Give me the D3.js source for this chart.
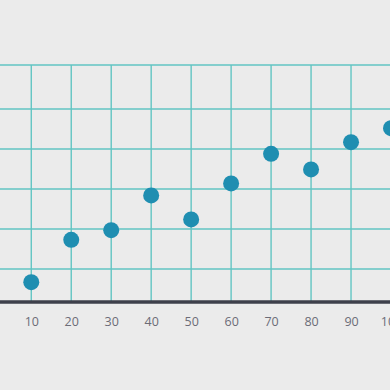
<!DOCTYPE html>
<html>
<head>
<meta charset="utf-8">
<script src="https://cdn.jsdelivr.net/npm/d3@7"></script>
<style>
  html, body { margin: 0; padding: 0; background: #ebebeb; }
  svg { display: block; }
  .tick-label { font-family: "Open Sans", sans-serif; font-size: 12.5px; fill: #6c6c77; }
</style>
</head>
<body>
<div id="chart"></div>
<script>
// chart values
const xValues = [10, 20, 30, 40, 50, 60, 70, 80, 90, 100];
const yValues = [6.7, 17.3, 19.7, 28.4, 22.4, 31.4, 38.8, 34.9, 41.7, 45.2];
const xTicks = [10, 20, 30, 40, 50, 60, 70, 80, 90, 100];
const yTicks = [10, 20, 30, 40, 50];

const width = 390, height = 390;
const colors = {
    grid: '#62c5c3',
    dot: '#1f8eb1',
    axis: '#3e404b'
};

let svg = d3.select("#chart").append("svg")
    .attr("width", width)
    .attr("height", height);

// scales
let x = d3.scaleLinear()
    .domain([0, 100])
    .range([-8.7, 391]);

let y = d3.scaleLinear()
    .domain([1.75, 61])
    .range([302, 65]);

// horizontal grid (plus top border at domain max)
svg.selectAll(".hgrid")
    .data(yTicks.concat([y.domain()[1]]))
    .enter().append("line")
    .attr("class", "hgrid")
    .attr("x1", 0).attr("x2", width)
    .attr("y1", d => y(d)).attr("y2", d => y(d))
    .attr("stroke", colors.grid)
    .attr("stroke-width", 1.4);

// vertical grid
svg.selectAll(".vgrid")
    .data(xTicks)
    .enter().append("line")
    .attr("class", "vgrid")
    .attr("x1", d => x(d)).attr("x2", d => x(d))
    .attr("y1", y(y.domain()[1])).attr("y2", y(y.domain()[0]))
    .attr("stroke", colors.grid)
    .attr("stroke-width", 1.4);

// x axis
let xAxis = d3.axisBottom(x)
    .tickValues(xTicks)
    .tickSize(0)
    .tickPadding(15.5);

let axisG = svg.append("g")
    .attr("transform", "translate(0," + y(y.domain()[0]) + ")")
    .call(xAxis);

axisG.select(".domain").remove();
axisG.selectAll("text").attr("class", "tick-label").attr("fill", null);

svg.append("line")
    .attr("x1", 0).attr("x2", width)
    .attr("y1", y(y.domain()[0])).attr("y2", y(y.domain()[0]))
    .attr("stroke", colors.axis)
    .attr("stroke-width", 3.5);

// dots
svg.selectAll(".dot")
    .data(xValues.map((d, i) => ({x: d, y: yValues[i]})))
    .enter().append("circle")
    .attr("class", "dot")
    .attr("cx", d => x(d.x))
    .attr("cy", d => y(d.y))
    .attr("r", 8)
    .attr("fill", colors.dot);
</script>
</body>
</html>
